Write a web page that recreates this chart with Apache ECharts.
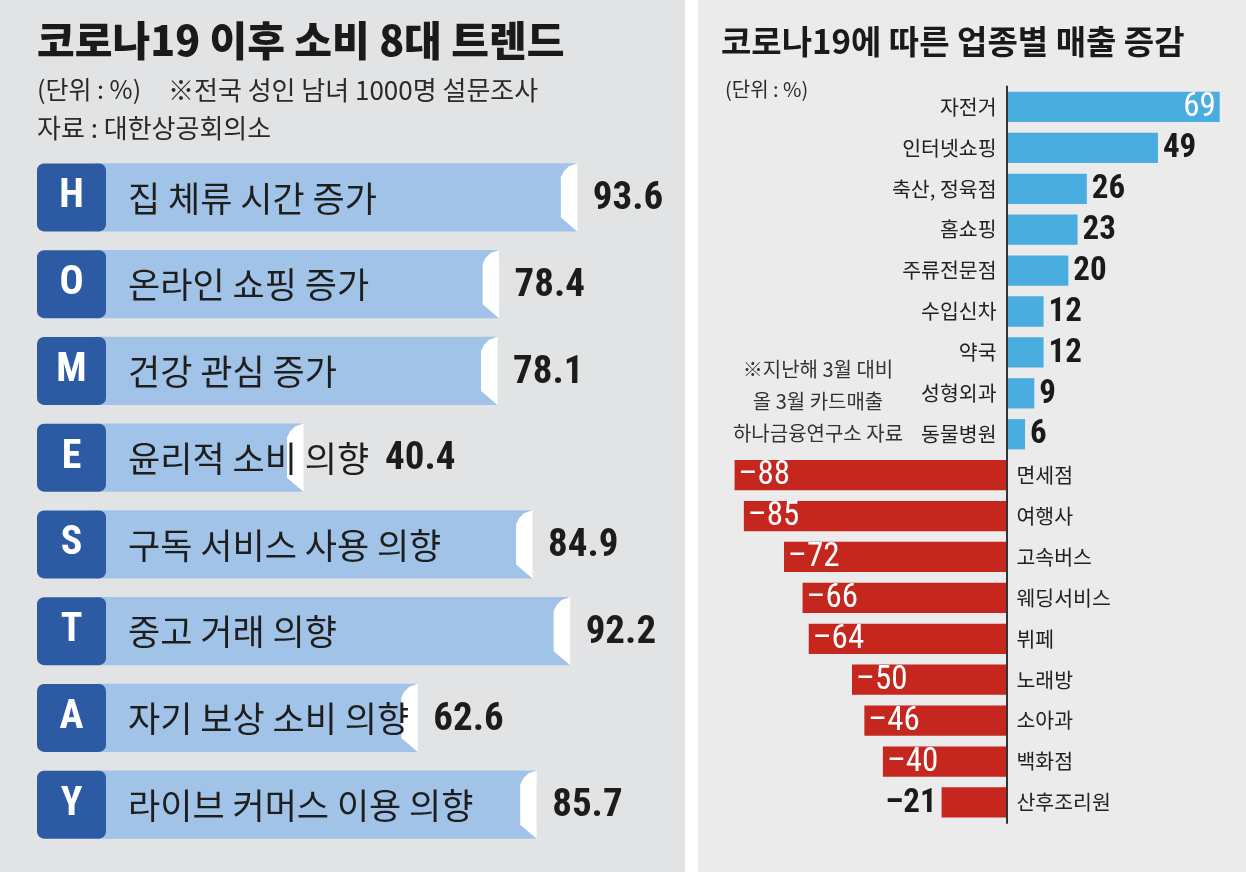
<!DOCTYPE html>
<html>
<head>
<meta charset="utf-8">
<script src="https://cdn.jsdelivr.net/npm/echarts@6/dist/echarts.min.js"></script>
<style>
  html, body { margin: 0; padding: 0; background: #fff; }
  #chart { width: 1246px; height: 872px; }
</style>
</head>
<body>
<div id="chart"></div>
<script>
// left: 8 consumer trends after COVID-19 (%)
const trendLetters = ['H', 'O', 'M', 'E', 'S', 'T', 'A', 'Y'];
const trendLabels = [
  '집 체류 시간 증가', '온라인 쇼핑 증가', '건강 관심 증가', '윤리적 소비 의향',
  '구독 서비스 사용 의향', '중고 거래 의향', '자기 보상 소비 의향', '라이브 커머스 이용 의향'
];
const trendValues = [93.6, 78.4, 78.1, 40.4, 84.9, 92.2, 62.6, 85.7];

// right: card sales change by business type (%)
const salesCategories = [
  '자전거', '인터넷쇼핑', '축산, 정육점', '홈쇼핑', '주류전문점', '수입신차', '약국', '성형외과', '동물병원',
  '면세점', '여행사', '고속버스', '웨딩서비스', '뷔페', '노래방', '소아과', '백화점', '산후조리원'
];
const salesChange = [69, 49, 26, 23, 20, 12, 12, 9, 6, -88, -85, -72, -66, -64, -50, -46, -40, -21];

const KR = '"Noto Sans CJK KR", "Noto Sans", sans-serif';
const NUM = '"Liberation Sans Narrow", "Roboto Condensed", "Liberation Sans", sans-serif';

const measureCtx = document.createElement('canvas').getContext('2d');
function textWidth(str, font) {
  measureCtx.font = font;
  return measureCtx.measureText(str).width;
}

function renderTrend(params, api) {
  const v = api.value(0);
  const idx = api.value(1);
  const start = api.coord([0, idx]);
  const end = api.coord([v, idx]);
  const h = api.size([0, 1])[1] * 0.785;
  const top = start[1] - h / 2;
  const x0 = start[0];
  const x1 = end[0];
  const label = trendLabels[idx];
  const labelX = x0 + 33;
  const labelEnd = labelX + textWidth(label, '35px ' + KR);
  const valueX = Math.max(x1, labelEnd) + 16;
  return {
    type: 'group',
    children: [
      { type: 'rect', shape: { x: x0, y: top, width: x1 - x0, height: h }, style: { fill: '#a1c3e7' } },
      {
        type: 'polygon',
        shape: {
          points: [[x1 + 0.5, top], [x1 - 8, top + 3], [x1 - 13, top + 8], [x1 - 16, top + 14],
            [x1 - 16, top + h - 14], [x1 + 0.5, top + h]]
        },
        style: { fill: '#ffffff' }
      },
      {
        type: 'text',
        style: {
          text: label, x: labelX, y: start[1] + 1, verticalAlign: 'middle', align: 'left',
          fontSize: 35, fontFamily: KR, fill: '#1e1e1e'
        }
      },
      {
        type: 'text',
        style: {
          text: v.toFixed(1), x: valueX, y: start[1] + 2, verticalAlign: 'middle', align: 'left',
          fontSize: 39, fontFamily: NUM, fontWeight: 'bold', fill: '#1c1c1c'
        }
      }
    ]
  };
}

function renderSales(params, api) {
  const v = api.value(0);
  const idx = api.value(1);
  const zero = api.coord([0, idx]);
  const end = api.coord([v, idx]);
  const h = api.size([0, 1])[1] * 0.74;
  const y = zero[1];
  const pos = v > 0;
  const inside = pos ? v > 60 : v < -30;
  const txt = (v < 0 ? '\u2013' : '') + Math.abs(v);
  let vx, valign;
  if (pos) {
    vx = inside ? end[0] - 4 : end[0] + 5;
    valign = inside ? 'right' : 'left';
  } else {
    vx = inside ? end[0] + 4 : end[0] - 5;
    valign = inside ? 'left' : 'right';
  }
  return {
    type: 'group',
    children: [
      {
        type: 'rect',
        shape: { x: Math.min(zero[0], end[0]), y: y - h / 2, width: Math.abs(end[0] - zero[0]), height: h },
        style: { fill: pos ? '#49ade0' : '#c5261e' }
      },
      {
        type: 'text',
        style: {
          text: txt, x: vx, y: y + 1, align: valign, verticalAlign: 'middle',
          fontSize: 33, fontFamily: NUM, fontWeight: inside ? 'normal' : 'bold',
          fill: inside ? '#ffffff' : '#1a1a1a'
        }
      },
      {
        type: 'text',
        style: {
          text: salesCategories[idx], x: pos ? zero[0] - 10 : zero[0] + 10, y: y,
          align: pos ? 'right' : 'left', verticalAlign: 'middle',
          fontSize: 20.5, fontFamily: KR, fill: '#222'
        }
      }
    ]
  };
}

const chart = echarts.init(document.getElementById('chart'));
chart.setOption({
  backgroundColor: '#ffffff',
  animation: false,
  graphic: [
    { type: 'rect', z: -10, shape: { x: 0, y: 0, width: 685, height: 872 }, style: { fill: '#e2e3e5' } },
    { type: 'rect', z: -10, shape: { x: 698, y: 0, width: 548, height: 872 }, style: { fill: '#ebebeb' } },
    {
      type: 'text', left: 37, top: 20,
      style: { text: '코로나19 이후 소비 8대 트렌드', fontSize: 41, fontWeight: 900, fontFamily: KR, fill: '#1a1a1a' }
    },
    {
      type: 'text', left: 37, top: 77,
      style: { text: '(단위 : %)', fontSize: 25, fontFamily: KR, fill: '#2a2a2a' }
    },
    {
      type: 'text', left: 168, top: 77,
      style: { text: '※전국 성인 남녀 1000명 설문조사', fontSize: 26, fontFamily: KR, fill: '#2a2a2a' }
    },
    {
      type: 'text', left: 37, top: 115,
      style: { text: '자료 : 대한상공회의소', fontSize: 26, fontFamily: KR, fill: '#2a2a2a' }
    },
    {
      type: 'text', left: 721, top: 25,
      style: { text: '코로나19에 따른 업종별 매출 증감', fontSize: 33, fontWeight: 'bold', fontFamily: KR, fill: '#1a1a1a' }
    },
    {
      type: 'text', left: 725, top: 79,
      style: { text: '(단위 : %)', fontSize: 20, fontFamily: KR, fill: '#2a2a2a' }
    },
    {
      type: 'text', x: 818, y: 353,
      style: {
        text: '※지난해 3월 대비\n올 3월 카드매출\n하나금융연구소 자료',
        fontSize: 20, lineHeight: 32, align: 'center', fontFamily: KR, fill: '#333'
      }
    }
  ],
  grid: [
    { left: 95, right: 559, top: 154, bottom: 24 },
    { left: 697.5, right: 7.75, top: 86.5, bottom: 49.1 }
  ],
  xAxis: [
    { type: 'value', gridIndex: 0, min: 0, max: 115, show: false },
    { type: 'value', gridIndex: 1, min: -100, max: 75, show: false }
  ],
  yAxis: [
    {
      type: 'category', gridIndex: 0, data: trendLetters, inverse: true, z: 10,
      axisLine: { show: false }, axisTick: { show: false },
      axisLabel: {
        interval: 0, margin: -11,
        formatter: v => '{box|' + v + '}',
        rich: {
          box: {
            width: 69, height: 68, lineHeight: 68, align: 'center',
            backgroundColor: '#2c5ba4', borderRadius: 7,
            color: '#ffffff', fontSize: 40, fontWeight: 'bold', fontFamily: NUM
          }
        }
      }
    },
    {
      type: 'category', gridIndex: 1, data: salesCategories, inverse: true, z: 10,
      axisLine: { show: true, onZero: true, lineStyle: { color: '#333', width: 2 } },
      axisTick: { show: false }, axisLabel: { show: false }
    }
  ],
  series: [
    {
      type: 'custom', xAxisIndex: 0, yAxisIndex: 0,
      data: trendValues.map((v, i) => [v, i]),
      encode: { x: 0, y: 1 },
      renderItem: renderTrend
    },
    {
      type: 'custom', xAxisIndex: 1, yAxisIndex: 1,
      data: salesChange.map((v, i) => [v, i]),
      encode: { x: 0, y: 1 },
      renderItem: renderSales
    }
  ]
});
</script>
</body>
</html>
